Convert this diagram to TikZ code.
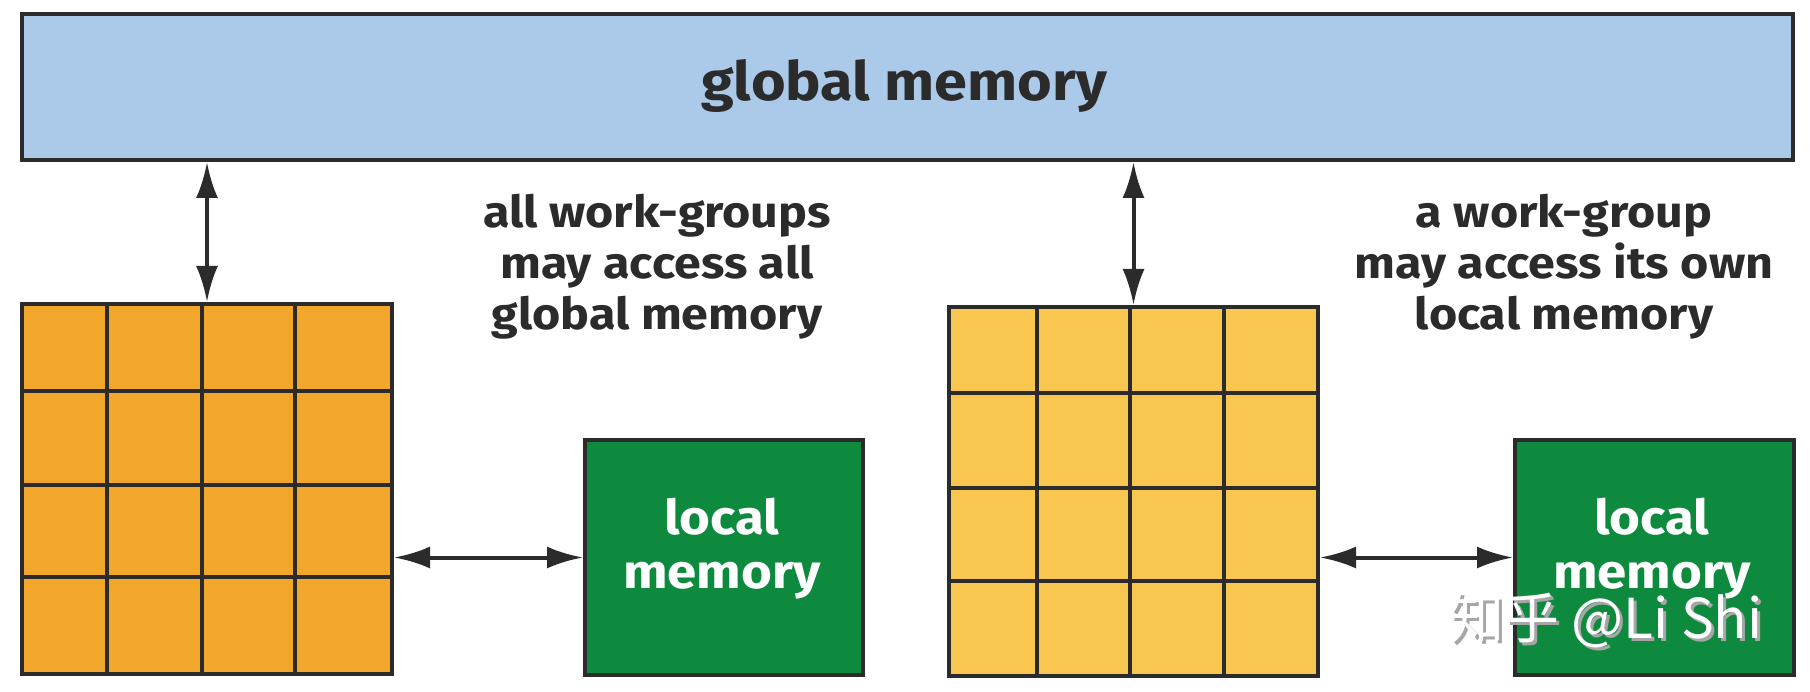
\documentclass[tikz,border=0pt]{standalone}
\usepackage{fontspec}
\setmainfont{Fira Sans}[FakeStretch=1.1]
\newfontfamily\cjkfont{Noto Sans CJK SC}
\usetikzlibrary{arrows.meta}
\definecolor{gblue}{HTML}{ABC9E8}
\definecolor{gorange}{HTML}{F2A62B}
\definecolor{gyellow}{HTML}{F9C74F}
\definecolor{ggreen}{HTML}{0E8A3E}
\definecolor{gdark}{HTML}{2B2B2B}
\tikzset{
  box/.style={draw=gdark, line width=4pt, inner sep=0pt, anchor=north west},
  lbl/.style={text=gdark, font=\fontsize{44}{51}\selectfont\bfseries, align=center},
  wlbl/.style={text=white, font=\fontsize{48}{54}\selectfont\bfseries, align=center},
  arr/.style={draw=gdark, line width=4pt, {Latex[length=36pt,width=22pt]}-{Latex[length=36pt,width=22pt]}},
  gline/.style={draw=gdark, line width=4pt},
}
\begin{document}
\begin{tikzpicture}[x=1pt,y=-1pt]
\useasboundingbox (0,0) rectangle (1810,692);
\node[box, fill=gblue, minimum width=1771pt, minimum height=146pt] (global) at (20,12) {};
\node[lbl, font=\fontsize{54}{60}\selectfont\bfseries] (gtext) at (904,86) {global memory};
% left grid
\node[box, fill=gorange, minimum width=370pt, minimum height=370pt] (gridL) at (20,302) {};
\foreach \x in {107,202,295} \draw[gline] (\x,302) -- (\x,672);
\foreach \y in {391,485,577} \draw[gline] (20,\y) -- (390,\y);
% right grid
\node[box, fill=gyellow, minimum width=369pt, minimum height=369pt] (gridR) at (947,305) {};
\foreach \x in {1037,1130,1224} \draw[gline] (\x,305) -- (\x,674);
\foreach \y in {393,488,581} \draw[gline] (947,\y) -- (1316,\y);
% local memories
\node[box, fill=ggreen, minimum width=278pt, minimum height=235pt] (localL) at (583,438) {};
\node[wlbl] (localLt) at (722,549) {local\\memory};
\node[box, fill=ggreen, minimum width=279pt, minimum height=235pt] (localR) at (1513,438) {};
\node[wlbl] (localRt) at (1652,549) {local\\memory};
% texts
\node[lbl] (tL) at (657,267) {all work-groups\\may access all\\global memory};
\node[lbl] (tR) at (1564,267) {a work-group\\may access its own\\local memory};
% arrows
\draw[arr] (gridL.north |- global.south) -- (gridL.north);
\draw[arr] (gridR.north |- global.south) -- (gridR.north);
\draw[arr] (localL.west -| gridL.east) -- (localL.west);
\draw[arr] (localR.west -| gridR.east) -- (localR.west);
% watermark
\node[text=gray!70, font=\fontsize{55}{60}\selectfont\cjkfont] (wms) at (1609,623) {知乎 @Li Shi};
\node[text=white, font=\fontsize{55}{60}\selectfont\cjkfont] (wm) at (1606,620) {知乎 @Li Shi};
\end{tikzpicture}
\end{document}
